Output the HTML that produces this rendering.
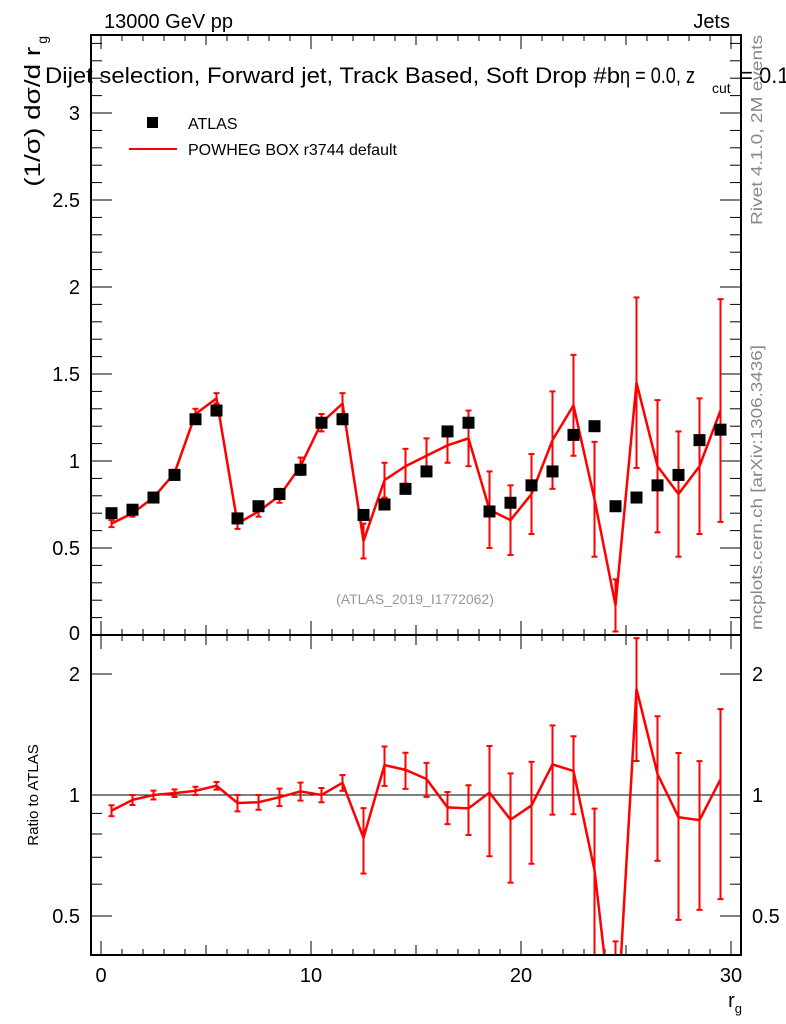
<!DOCTYPE html>
<html><head><meta charset="utf-8"><style>
body{margin:0;background:#fff;}
svg{display:block;font-family:"Liberation Sans",sans-serif;}
</style></head><body>
<svg id="c" width="786" height="1024" viewBox="0 0 786 1024">
<text x="104" y="28" font-size="20">13000 GeV pp</text>
<text x="730" y="28" font-size="20" text-anchor="end">Jets</text>
<rect x="91" y="35" width="650" height="600" fill="none" stroke="#000" stroke-width="2"/>
<rect x="91" y="635" width="650" height="320" fill="none" stroke="#000" stroke-width="2"/>
<text x="45" y="83" font-size="22" textLength="575" lengthAdjust="spacingAndGlyphs">Dijet selection, Forward jet, Track Based, Soft Drop #b</text>
<text x="620" y="83" font-size="22" textLength="75" lengthAdjust="spacingAndGlyphs">η = 0.0, z</text>
<text x="712" y="93" font-size="14">cut</text>
<text x="740" y="83" font-size="22">= 0.1</text>
<text transform="translate(40,36) rotate(-90)" font-size="22" text-anchor="end"><tspan textLength="140" lengthAdjust="spacingAndGlyphs">(1/σ) dσ/d r</tspan><tspan font-size="14" dy="7" dx="3">g</tspan></text>
<text transform="translate(38,795) rotate(-90)" font-size="15" text-anchor="middle">Ratio to ATLAS</text>
<text x="742" y="1007" font-size="20" text-anchor="end">r<tspan font-size="13" dy="6">g</tspan></text>
<text transform="translate(762,225) rotate(-90)" font-size="16" fill="#888" textLength="190" lengthAdjust="spacingAndGlyphs">Rivet 4.1.0,  2M events</text>
<text transform="translate(762,630) rotate(-90)" font-size="16" fill="#888" textLength="285" lengthAdjust="spacingAndGlyphs">mcplots.cern.ch [arXiv:1306.3436]</text>
<text x="415" y="604" font-size="14" fill="#999" text-anchor="middle">(ATLAS_2019_I1772062)</text>
<rect x="147" y="117" width="11" height="11" fill="#000"/>
<text x="188" y="129" font-size="16">ATLAS</text>
<line x1="129" y1="149" x2="177" y2="149" stroke="red" stroke-width="2"/>
<text x="188" y="155" font-size="16">POWHEG BOX r3744 default</text>
<g id="g"></g>
</svg>
<script>
const xCenters=[0.5,1.5,2.5,3.5,4.5,5.5,6.5,7.5,8.5,9.5,10.5,11.5,12.5,13.5,14.5,15.5,16.5,17.5,18.5,19.5,20.5,21.5,22.5,23.5,24.5,25.5,26.5,27.5,28.5,29.5];
const atlasValues=[0.70,0.72,0.79,0.92,1.24,1.29,0.67,0.74,0.81,0.95,1.22,1.24,0.69,0.75,0.84,0.94,1.17,1.22,0.71,0.76,0.86,0.94,1.15,1.20,0.74,0.79,0.86,0.92,1.12,1.18];
const mcValues=[0.64,0.70,0.79,0.93,1.27,1.36,0.64,0.71,0.80,0.97,1.22,1.33,0.54,0.89,0.97,1.03,1.09,1.13,0.72,0.66,0.81,1.12,1.32,0.78,0.17,1.45,0.97,0.81,0.97,1.29];
const mcErrors=[0.02,0.02,0.02,0.02,0.03,0.03,0.03,0.03,0.04,0.05,0.05,0.06,0.10,0.10,0.10,0.10,0.10,0.16,0.22,0.20,0.23,0.28,0.29,0.33,0.15,0.49,0.38,0.36,0.39,0.64];
const yTicks=[0.5,1,1.5,2,2.5,3];
const yTickLabels=["0.5","1","1.5","2","2.5","3"];
const rTicks=[0.5,1,2];
const rTickLabels=["0.5","1","2"];
const xTicks=[0,10,20,30];
const xTickLabels=["0","10","20","30"];
const ns="http://www.w3.org/2000/svg",g=document.getElementById('g');
const X=v=>101+21*v, Y=v=>635-174*v;
const R=v=>{const y=795-402*Math.log10(Math.max(v,0.01));return Math.min(Math.max(y,635),955);};
function el(t,a){const e=document.createElementNS(ns,t);for(const k in a)e.setAttribute(k,a[k]);g.appendChild(e);return e;}
function ln(x1,y1,x2,y2,c,w){return el('line',{x1,y1,x2,y2,stroke:c,'stroke-width':w});}
function tx(x,y,s,sz,anc){const e=el('text',{x,y,'font-size':sz,'text-anchor':anc});e.textContent=s;return e;}
for(let i=0;i<=30;i++){const x=X(i),L=i%10==0?14:(i%5==0?10:6);
 for(const [t,b] of [[35,635],[635,955]]){const a=ln(x,b,x,b-L,'#000',1);const c=ln(x,t,x,t+L,'#000',1);}}
xTicks.forEach((v,i)=>{const t=tx(X(v),982,xTickLabels[i],20,'middle');});
for(let k=1;k<=34;k++){const v=k/10,y=Y(v),L=k%5==0?20:10;if(y<36)continue;
 const a=ln(92,y,92+L,y,'#000',1);
 const b=ln(740,y,740-L,y,'#000',1);}
yTicks.forEach((v,i)=>{const t=tx(80,Y(v)+7,yTickLabels[i],20,'end');});
{const t=tx(80,640,"0",20,'end');}
[0.4,0.5,0.6,0.7,0.8,0.9,1,2].forEach(v=>{const y=R(v),L=(v==0.5||v==1||v==2)?20:10;
 const a=ln(92,y,92+L,y,'#000',1);
 const b=ln(740,y,740-L,y,'#000',1);});
rTicks.forEach((v,i)=>{let t=tx(80,R(v)+7,rTickLabels[i],20,'end');
 t=tx(752,R(v)+7,rTickLabels[i],20,'start');});
{const a=ln(92,R(1),740,R(1),'#000',1);}
xCenters.forEach((x,i)=>{const px=X(x),y1=Y(mcValues[i]+mcErrors[i]),y2=Math.min(Y(mcValues[i]-mcErrors[i]),635);
 const e=ln(px,y1,px,y2,'red',2);
 for(const yy of [y1,y2]){const c=ln(px-3,yy,px+3,yy,'red',2);}});
{const p=el('polyline',{points:xCenters.map((x,i)=>X(x)+','+Y(mcValues[i])).join(' '),fill:'none',stroke:'red','stroke-width':2.5});
}
xCenters.forEach((x,i)=>{const r=el('rect',{x:X(x)-6,y:Y(atlasValues[i])-6,width:12,height:12,fill:'#000'});
 });
const clip=el('clipPath',{id:'rc'});const cr=document.createElementNS(ns,'rect');cr.setAttribute('x',91);cr.setAttribute('y',636);cr.setAttribute('width',650);cr.setAttribute('height',318);clip.appendChild(cr);
const rg=el('g',{'clip-path':'url(#rc)'});
xCenters.forEach((x,i)=>{const r=mcValues[i]/atlasValues[i],e=mcErrors[i]/atlasValues[i],px=X(x);
 const y1=R(r+e),y2=R(Math.max(r-e,0.01));
 const a=ln(px,y1,px,y2,'red',2);rg.appendChild(a);
 for(const yy of [y1,y2]){const c=ln(px-3,yy,px+3,yy,'red',2);rg.appendChild(c);}});
{const p=el('polyline',{points:xCenters.map((x,i)=>X(x)+','+(795-402*Math.log10(mcValues[i]/atlasValues[i]))).join(' '),fill:'none',stroke:'red','stroke-width':2.5});
rg.appendChild(p);}
</script>
</body></html>
